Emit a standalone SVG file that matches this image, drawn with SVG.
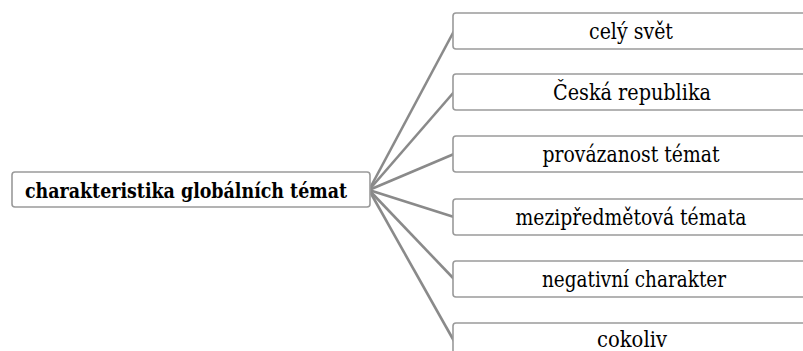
<svg xmlns="http://www.w3.org/2000/svg" width="803" height="351" viewBox="0 0 803 351">
<style>
.box{fill:#fff;stroke:#9a9a9a;stroke-width:1.6}
.lbl{font-family:"DejaVu Serif",serif;font-size:22px;fill:#000;text-anchor:middle}
.root{font-weight:bold;font-size:21px}
.conn{stroke:#8a8a8a;stroke-width:2.6;fill:none}
</style>
<rect width="803" height="351" fill="#fff"/>
<g id="connectors">
<line class="conn" x1="369" y1="190" x2="454" y2="31"/>
<line class="conn" x1="369" y1="190" x2="454" y2="92"/>
<line class="conn" x1="369" y1="190" x2="454" y2="154"/>
<line class="conn" x1="369" y1="190" x2="454" y2="217"/>
<line class="conn" x1="369" y1="190" x2="454" y2="279"/>
<line class="conn" x1="369" y1="190" x2="454" y2="341"/>
</g>
<g id="root">
<rect class="box" x="12" y="172" width="358" height="35" rx="3"/>
<text class="lbl root" x="186" y="198" textLength="322" lengthAdjust="spacingAndGlyphs">charakteristika globálních témat</text>
</g>
<g id="n1">
<rect class="box" x="453" y="13" width="360" height="36" rx="3"/>
<text class="lbl" x="631" y="38.5" textLength="84" lengthAdjust="spacingAndGlyphs">celý svět</text>
</g>
<g id="n2">
<rect class="box" x="453" y="74" width="360" height="36" rx="3"/>
<text class="lbl" x="632" y="99.5" textLength="158" lengthAdjust="spacingAndGlyphs">Česká republika</text>
</g>
<g id="n3">
<rect class="box" x="453" y="136" width="360" height="36" rx="3"/>
<text class="lbl" x="631" y="161.5" textLength="177" lengthAdjust="spacingAndGlyphs">provázanost témat</text>
</g>
<g id="n4">
<rect class="box" x="453" y="199" width="360" height="36" rx="3"/>
<text class="lbl" x="631" y="224.5" textLength="231" lengthAdjust="spacingAndGlyphs">mezipředmětová témata</text>
</g>
<g id="n5">
<rect class="box" x="453" y="261" width="360" height="36" rx="3"/>
<text class="lbl" x="634" y="286.5" textLength="184" lengthAdjust="spacingAndGlyphs">negativní charakter</text>
</g>
<g id="n6">
<rect class="box" x="453" y="323" width="360" height="36" rx="3"/>
<text class="lbl" x="632" y="346.5" textLength="70" lengthAdjust="spacingAndGlyphs">cokoliv</text>
</g>
</svg>
